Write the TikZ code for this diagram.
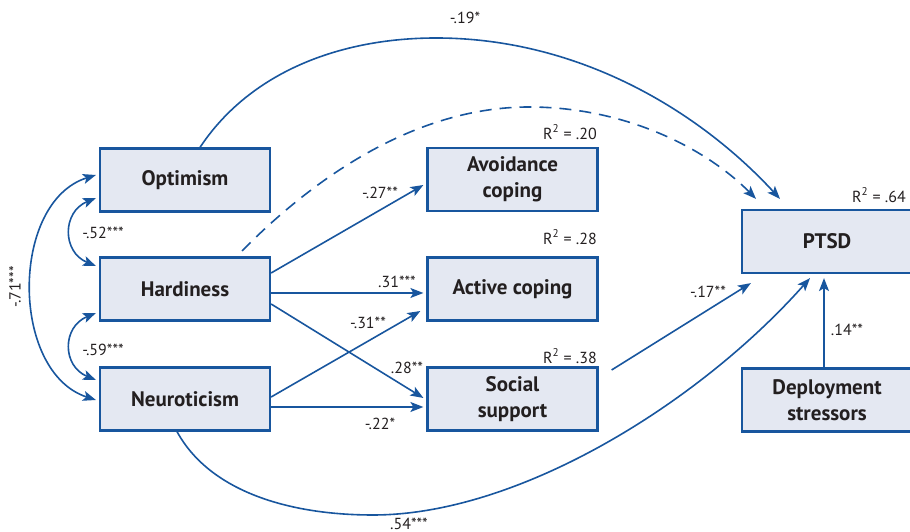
\documentclass[tikz,border=0pt]{standalone}
\usepackage{fontspec}
\setmainfont{PT Sans}
\usetikzlibrary{arrows.meta}
\definecolor{lineblue}{RGB}{24,86,158}
\definecolor{boxfill}{RGB}{228,232,242}
\definecolor{txt}{RGB}{35,31,32}
\begin{document}
\begin{tikzpicture}[x=1pt,y=1pt,
  box/.style={draw=lineblue, line width=2.2pt, fill=boxfill, minimum width=170pt, minimum height=63pt, inner sep=0pt, align=center, font=\fontsize{21}{26}\selectfont\bfseries, text=txt},
  lbl/.style={font=\fontsize{16}{18}\selectfont, text=txt, inner sep=0pt},
  tip/.style={-{Stealth[length=13pt,width=10pt,inset=3pt]}},
  conn/.style={draw=lineblue, line width=1.6pt, tip},
  corr/.style={draw=lineblue, line width=1.6pt, {Stealth[length=13pt,width=10pt,inset=3pt]}-{Stealth[length=13pt,width=10pt,inset=3pt]}},
]
\useasboundingbox (0,0) rectangle (910,532);
% boxes
\node[box] (opt)  at (185,352) {Optimism};
\node[box] (hard) at (185,243) {Hardiness};
\node[box] (neur) at (185,133) {Neuroticism};
\node[box] (avoid) at (512.5,352.5) {Avoidance\\coping};
\node[box] (act)  at (512.5,243) {Active coping};
\node[box] (soc)  at (512.5,133) {Social\\support};
\node[box] (ptsd) at (827,290.5) {PTSD};
\node[box] (dep)  at (827,132) {Deployment\\stressors};
% straight paths
\draw[conn] ([yshift=16pt]hard.east) -- ([xshift=-3pt,yshift=-5.5pt]avoid.west);
\draw[conn] ([yshift=-4pt]hard.east) -- ([xshift=-3pt,yshift=-4pt]act.west);
\draw[conn] ([yshift=-15pt]hard.east) -- ([xshift=-3pt,yshift=1pt]soc.west);
\draw[conn] ([yshift=2pt]neur.east) -- ([xshift=-6pt,yshift=-22pt]act.west);
\draw[conn] ([yshift=-8pt]neur.east) -- ([xshift=-3pt,yshift=-8pt]soc.west);
\draw[conn] ([xshift=13pt,yshift=29pt]soc.east) -- ([xshift=10pt,yshift=-9pt]ptsd.south west);
\draw[conn] ([xshift=-3pt]dep.north) -- ([xshift=-3pt,yshift=-4pt]ptsd.south);
% curved paths
\draw[conn] ([xshift=15pt]opt.north) .. controls (250,460) and (340,494) .. (436,494) .. controls (580,494) and (700,420) .. ([xshift=-47pt,yshift=10pt]ptsd.north);
\draw[conn, dash pattern=on 12pt off 8pt] ([xshift=57pt,yshift=5.5pt]hard.north) .. controls (320,360) and (420,425) .. (529,425) .. controls (630,425) and (710,380) .. ([xshift=-71pt,yshift=10pt]ptsd.north);
\draw[conn] ([xshift=-8pt]neur.south) .. controls (210,40) and (290,17) .. (373,17) .. controls (520,17) and (700,130) .. ([xshift=-17pt,yshift=-4pt]ptsd.south);
% correlations
\draw[corr] ([xshift=-3pt,yshift=-18pt]opt.west) .. controls (62,320) and (62,280) .. ([xshift=-3pt,yshift=23pt]hard.west);
\draw[corr] ([xshift=-3pt,yshift=-24pt]hard.west) .. controls (62,205) and (62,166) .. ([xshift=-3pt,yshift=19pt]neur.west);
\draw[corr] ([xshift=-3pt,yshift=5pt]opt.west) .. controls (10,330) and (10,160) .. ([xshift=-3pt,yshift=-1pt]neur.west);
% labels
\node[lbl] (l19) at (465,514) {-.19*};
\node[lbl] (l27) at (380,339) {-.27**};
\node[lbl] (l31a) at (397,250) {.31***};
\node[lbl] (l31b) at (368,209) {-.31**};
\node[lbl] (l28) at (407,164) {.28**};
\node[lbl] (l22) at (380,108) {-.22*};
\node[lbl] (l17) at (708,240) {-.17**};
\node[lbl] (l14) at (847,202) {.14**};
\node[lbl, anchor=south] (l54) at (409,2) {.54***};
\node[lbl] (l52) at (103,299) {-.52***};
\node[lbl] (l59) at (103,182) {-.59***};
\node[lbl, rotate=90] (l71) at (15,245) {-.71***};
\node[lbl, anchor=east] (r20) at (597,400) {R\textsuperscript{2} = .20};
\node[lbl, anchor=east] (r28) at (597,295) {R\textsuperscript{2} = .28};
\node[lbl, anchor=east] (r38) at (597,176) {R\textsuperscript{2} = .38};
\node[lbl, anchor=east] (r64) at (906,337) {R\textsuperscript{2} = .64};
\end{tikzpicture}
\end{document}
